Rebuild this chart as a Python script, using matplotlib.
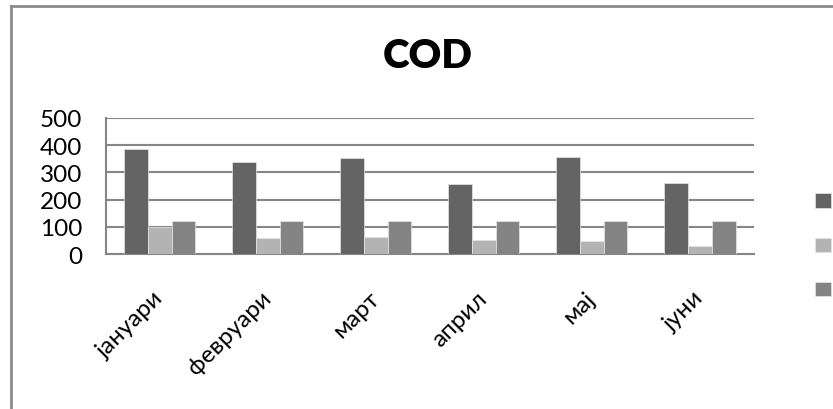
import matplotlib
matplotlib.use("Agg")
import matplotlib.pyplot as plt
from matplotlib.lines import Line2D
import numpy as np

plt.rcParams['font.family'] = ['Lato', 'DejaVu Sans']

# podatoci procitani od grafikonot
meseci = ["јануари", "февруари", "март", "април", "мај", "јуни"]
serija1 = [386, 337, 352, 257, 355, 260]
serija2 = [99, 58, 64, 53, 49, 29]
serija3 = [120, 120, 120, 120, 120, 120]
boi = ["#646464", "#b3b3b3", "#848484"]
yticki = [0, 100, 200, 300, 400, 500]

fig = plt.figure(figsize=(8.33, 4.10), dpi=100)
ax = fig.add_axes([0.127, 0.378, 0.778, 0.332])

x = np.arange(len(meseci))
w = 0.22
serii = [serija1, serija2, serija3]
barovi = []
for i, s in enumerate(serii):
    b = ax.bar(x + (i - 1) * w, s, w, color=boi[i], edgecolor="#e6e6e6",
               linewidth=0.5, zorder=3)
    barovi.append(b)

ax.set_xlim(-0.5, len(meseci) - 0.5)
ax.set_ylim(0, 500)
ax.set_yticks(yticki)
ax.set_yticklabels([str(v) for v in yticki], fontsize=17.5)
ax.yaxis.grid(True, color="#868686", linewidth=1.5, zorder=0)
ax.tick_params(axis="y", length=0, pad=17)
ax.tick_params(axis="x", length=0, pad=29)
ax.set_xticks(x)
ax.set_xticklabels(meseci, fontsize=17.5, rotation=45, ha="right",
                   va="center", rotation_mode="anchor")

for k in ["top", "right"]:
    ax.spines[k].set_visible(False)
ax.spines["left"].set_color("#868686")
ax.spines["left"].set_linewidth(1.5)
ax.spines["bottom"].set_color("#868686")
ax.spines["bottom"].set_linewidth(1.5)

fig.text(0.513, 1 - 56 / 410, "COD", fontsize=29, fontweight="heavy",
         ha="center", va="center")

ax.legend(barovi, ["", "", ""], loc="center left",
          bbox_to_anchor=(815 / 833, 1 - 246.5 / 410),
          bbox_transform=fig.transFigure, frameon=False, fontsize=11.5,
          handlelength=1.0, handleheight=1.0, handletextpad=0,
          labelspacing=1.8, borderpad=0, borderaxespad=0)

# ramka na grafikonot (samo levo i gore se gleda)
fig.add_artist(Line2D([11 / 833, 11 / 833], [0, 1 - 7 / 410],
                      transform=fig.transFigure, color="#8c8c8c", lw=2))
fig.add_artist(Line2D([11 / 833, 1], [1 - 7 / 410, 1 - 7 / 410],
                      transform=fig.transFigure, color="#8c8c8c", lw=2))

fig.savefig("out.png", dpi=100)
